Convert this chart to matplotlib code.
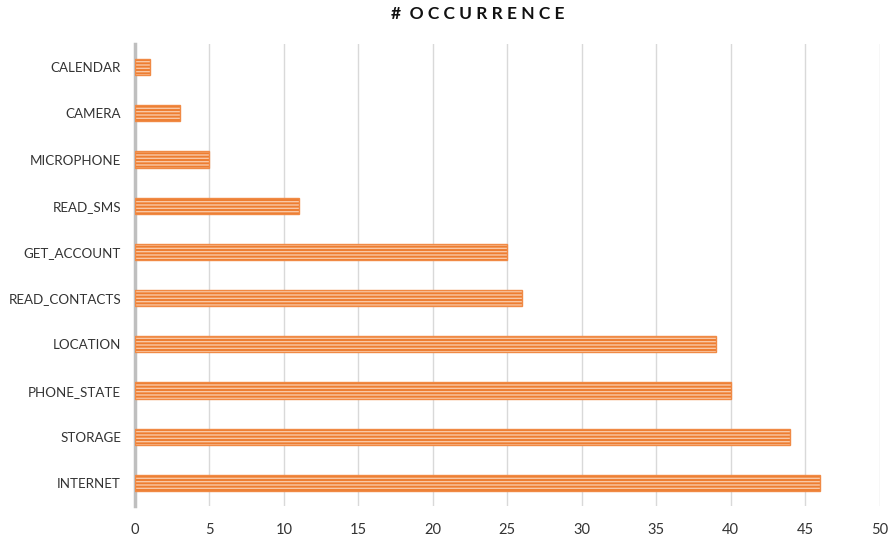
import matplotlib.pyplot as plt

categories = ['INTERNET', 'STORAGE', 'PHONE_STATE', 'LOCATION', 'READ_CONTACTS',
              'GET_ACCOUNT', 'READ_SMS', 'MICROPHONE', 'CAMERA', 'CALENDAR']
counts = [46, 44, 40, 39, 26, 25, 11, 5, 3, 1]
xticks = [0, 5, 10, 15, 20, 25, 30, 35, 40, 45, 50]

plt.rcParams['font.family'] = ['Lato', 'DejaVu Sans']
plt.rcParams['hatch.linewidth'] = 1.0

fig = plt.figure(figsize=(8.94, 5.43), dpi=100)
ax = fig.add_axes([0.151, 0.068, 0.833, 0.851])

ypos = range(len(categories))
# striped fill
ax.barh(ypos, counts, height=0.35, color='#ED7D31', edgecolor='#F9C8A6',
        hatch='-----', linewidth=0, zorder=3)
# outline
ax.barh(ypos, counts, height=0.35, fill=False, edgecolor='#F08A45',
        linewidth=1.0, zorder=4)

ax.set_xlim(0, 50)
ax.set_ylim(-0.5, len(categories) - 0.5)
ax.set_xticks(xticks)
ax.set_yticks(list(ypos))
ax.set_yticklabels(categories)
ax.tick_params(axis='both', length=0, labelsize=10, colors='#333333')
ax.tick_params(axis='x', pad=12, labelsize=10.5)
ax.tick_params(axis='y', pad=10, labelsize=9.6)

ax.grid(axis='x', color='#D9D9D9', linewidth=1, zorder=0)
for s in ['top', 'right', 'bottom']:
    ax.spines[s].set_visible(False)
ax.spines['left'].set_color('#BFBFBF')
ax.spines['left'].set_linewidth(2.5)

fig.text(0.534, 0.975, '#  O C C U R R E N C E', ha='center', va='center',
         fontsize=12.5, fontweight='bold', color='#111111')

fig.savefig('out.png', dpi=100)
